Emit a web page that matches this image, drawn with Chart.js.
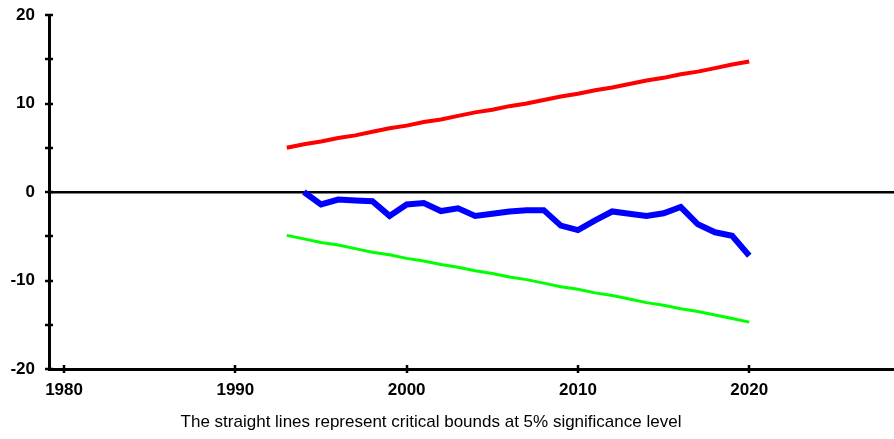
<!DOCTYPE html>
<html>
<head>
<meta charset="utf-8">
<script src="https://cdn.jsdelivr.net/npm/chart.js@4/dist/chart.umd.min.js"></script>
<style>
  html, body { margin: 0; padding: 0; background: #fff; }
  #wrap { width: 894px; height: 439px; }
</style>
</head>
<body>
<div id="wrap"><canvas id="cusum"></canvas></div>
<script>
// years for the bounds (1993-2020) and for the cusum (1994-2020)
var boundYears = [1993, 1994, 1995, 1996, 1997, 1998, 1999, 2000, 2001, 2002, 2003, 2004, 2005, 2006,
  2007, 2008, 2009, 2010, 2011, 2012, 2013, 2014, 2015, 2016, 2017, 2018, 2019, 2020];
var cusumYears = [1994, 1995, 1996, 1997, 1998, 1999, 2000, 2001, 2002, 2003, 2004, 2005, 2006,
  2007, 2008, 2009, 2010, 2011, 2012, 2013, 2014, 2015, 2016, 2017, 2018, 2019, 2020];

var cusum = [0, -1.4, -0.85, -0.95, -1.05, -2.7, -1.4, -1.25, -2.15, -1.85, -2.7, -2.45, -2.2,
  -2.05, -2.05, -3.8, -4.3, -3.2, -2.2, -2.45, -2.7, -2.4, -1.7, -3.65, -4.55, -4.95, -7.2];
var upper = [5.0, 5.4, 5.7, 6.1, 6.4, 6.8, 7.2, 7.5, 7.9, 8.2, 8.6, 9.0, 9.3, 9.7,
  10.0, 10.4, 10.8, 11.1, 11.5, 11.8, 12.2, 12.6, 12.9, 13.3, 13.6, 14.0, 14.4, 14.75];
var lower = [-4.9, -5.3, -5.7, -6.0, -6.4, -6.8, -7.1, -7.5, -7.8, -8.2, -8.5, -8.9, -9.2, -9.6,
  -9.9, -10.3, -10.7, -11.0, -11.4, -11.7, -12.1, -12.5, -12.8, -13.2, -13.5, -13.9, -14.3, -14.7];

var xTicks = [1980, 1990, 2000, 2010, 2020];
var yTicks = [-20, -15, -10, -5, 0, 5, 10, 15, 20];
var caption = "The straight lines represent critical bounds at 5% significance level";

function pts(xs, ys) {
  return xs.map(function (x, i) { return { x: x, y: ys[i] }; });
}

var fontFam = "Arial, 'Liberation Sans', sans-serif";

// tick marks that cross the axis line, plus the caption
var crossTicks = {
  id: 'crossTicks',
  afterDraw: function (chart) {
    var ctx = chart.ctx, xs = chart.scales.x, ys = chart.scales.y;
    var a = chart.chartArea;
    ctx.save();
    ctx.strokeStyle = '#000';
    ctx.lineWidth = 2.5;
    xs.ticks.forEach(function (t) {
      var px = Math.round(xs.getPixelForValue(t.value));
      ctx.beginPath();
      ctx.moveTo(px, a.bottom - 4);
      ctx.lineTo(px, a.bottom + 4);
      ctx.stroke();
    });
    ys.ticks.forEach(function (t) {
      var py = Math.round(ys.getPixelForValue(t.value));
      ctx.beginPath();
      ctx.moveTo(a.left - 4, py);
      ctx.lineTo(a.left + 4, py);
      ctx.stroke();
    });
    ctx.fillStyle = '#000';
    ctx.font = "17px " + fontFam;
    ctx.textAlign = 'center';
    ctx.textBaseline = 'middle';
    ctx.fillText(caption, 431, 422);
    ctx.restore();
  }
};

new Chart(document.getElementById("cusum"), {
  type: 'line',
  data: {
    datasets: [{
      label: 'CUSUM',
      data: pts(cusumYears, cusum),
      borderColor: '#0000ff',
      borderWidth: 6,
      pointRadius: 0,
      tension: 0
    }, {
      label: 'Upper bound',
      data: pts(boundYears, upper),
      borderColor: '#ff0000',
      borderWidth: 4,
      pointRadius: 0
    }, {
      label: 'Lower bound',
      data: pts(boundYears, lower),
      borderColor: '#00ff00',
      borderWidth: 3,
      pointRadius: 0
    }]
  },
  options: {
    responsive: true,
    maintainAspectRatio: false,
    animation: false,
    layout: { padding: { top: 15, right: 0, left: 0, bottom: 0 } },
    plugins: {
      legend: { display: false },
      tooltip: { enabled: false }
    },
    scales: {
      x: {
        type: 'linear',
        min: 1979.12,
        max: 2028.45,
        afterBuildTicks: function (s) { s.ticks = xTicks.map(function (v) { return { value: v }; }); },
        afterFit: function (s) { s.height = 70; s.paddingLeft = 0; s.paddingRight = 0; },
        grid: { display: true, drawOnChartArea: false, drawTicks: false },
        border: { color: '#000', width: 3 },
        ticks: {
          padding: 11,
          color: '#000',
          font: { family: fontFam, size: 17, weight: 'bold' },
          callback: function (v) { return String(v); }
        }
      },
      y: {
        min: -20,
        max: 20,
        afterBuildTicks: function (s) { s.ticks = yTicks.map(function (v) { return { value: v }; }); },
        afterFit: function (s) { s.width = 49; s.paddingTop = 0; s.paddingBottom = 0; },
        grid: {
          drawTicks: false,
          lineWidth: 2.5,
          color: function (c) { return c.tick && c.tick.value === 0 ? '#000' : 'rgba(0,0,0,0)'; }
        },
        border: { color: '#000', width: 3 },
        ticks: {
          padding: 14,
          color: '#000',
          font: { family: fontFam, size: 17, weight: 'bold' },
          callback: function (v) { return v % 10 === 0 ? String(v) : ''; }
        }
      }
    }
  },
  plugins: [crossTicks]
});
</script>
</body>
</html>
